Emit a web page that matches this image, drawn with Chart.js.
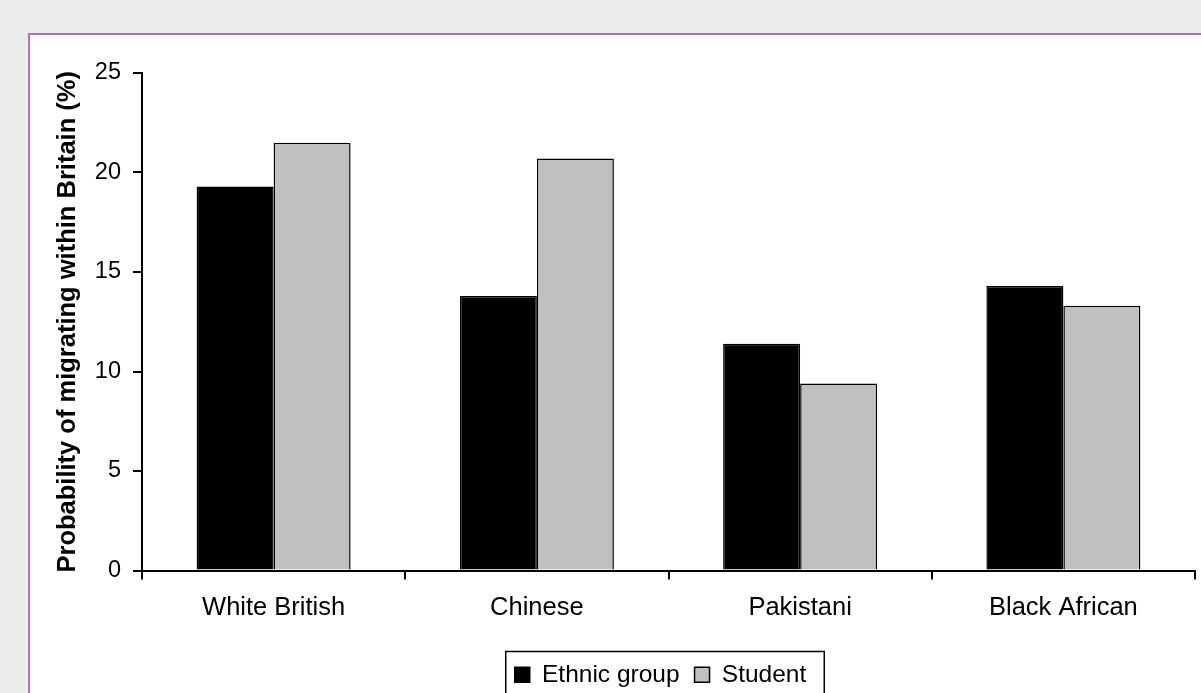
<!DOCTYPE html>
<html>
<head>
<meta charset="utf-8">
<script src="https://cdn.jsdelivr.net/npm/chart.js@4/dist/chart.umd.min.js"></script>
<style>
  html, body { margin: 0; padding: 0; width: 1201px; height: 693px; overflow: hidden; background: #ebecec; }
  #panel { position: absolute; left: 28px; top: 33px; width: 1300px; height: 800px; background: #fff; border: 2px solid #b46fc6; box-sizing: border-box; }
  #chart { position: absolute; left: 0; top: 0; }
</style>
</head>
<body>
<div id="panel"></div>
<canvas id="chart" width="1201" height="740"></canvas>
<script>
// Probability of migrating within Britain, by ethnic group
const categories = ['White British', 'Chinese', 'Pakistani', 'Black African'];
const ethnicGroup = [19.3, 13.8, 11.4, 14.3];
const student = [21.5, 20.7, 9.4, 13.3];
const seriesNames = ['Ethnic group', 'Student'];
const yTicks = [0, 5, 10, 15, 20, 25];

const FONT = '"Liberation Sans", Arial, sans-serif';
const LEGEND_PAD = 15;

// Frame drawn around the legend items
const legendFrame = {
  id: 'legendFrame',
  afterLayout(chart) {
    chart.legend.left -= 8;
    chart.legend.right -= 8;
  },
  afterDraw(chart) {
    const boxes = chart.legend.legendHitBoxes;
    if (!boxes || !boxes.length) return;
    const first = boxes[0], last = boxes[boxes.length - 1];
    const ctx = chart.ctx;
    ctx.save();
    ctx.strokeStyle = '#000';
    ctx.lineWidth = 1.5;
    const left = first.left - 9;
    const right = last.left + last.width + 18;
    const top = first.top - 11;
    ctx.strokeRect(left, top, right - left, chart.height + 20 - top);
    ctx.restore();
  }
};

new Chart(document.getElementById('chart'), {
  type: 'bar',
  data: {
    labels: categories,
    datasets: [
      { label: seriesNames[0], data: ethnicGroup, backgroundColor: '#000000', borderColor: '#000000', borderWidth: 1.5 },
      { label: seriesNames[1], data: student, backgroundColor: '#c0c0c0', borderColor: '#000000', borderWidth: 1.5 }
    ]
  },
  options: {
    responsive: false,
    devicePixelRatio: 1,
    animation: false,
    datasets: { bar: { categoryPercentage: 0.585, barPercentage: 1.0 } },
    layout: { padding: { left: 0, right: 6, top: 73, bottom: 43 } },
    plugins: {
      tooltip: { enabled: false },
      legend: {
        position: 'bottom',
        fullSize: false,
        labels: {
          boxWidth: 15, boxHeight: 15, padding: LEGEND_PAD,
          color: '#000', font: { family: FONT, size: 24.5 }
        }
      }
    },
    scales: {
      x: {
        afterFit(scale) { scale.height = 77; },
        grid: { offset: true, drawOnChartArea: false, drawTicks: true, tickLength: 9, color: '#000', lineWidth: 2 },
        border: { display: true, color: '#000', width: 2 },
        ticks: { color: '#000', padding: 13, font: { family: FONT, size: 25.5 }, maxRotation: 0 }
      },
      y: {
        min: 0, max: 25,
        afterFit(scale) { scale.width = 142; },
        afterBuildTicks(scale) { scale.ticks = yTicks.map(v => ({ value: v })); },
        grid: { drawOnChartArea: false, drawTicks: true, tickLength: 9, color: '#000', lineWidth: 2 },
        border: { display: true, color: '#000', width: 2 },
        ticks: { color: '#000', padding: 12, font: { family: FONT, size: 23.5 } },
        title: {
          display: true,
          text: 'Probability of migrating within Britain (%)',
          color: '#000',
          font: { family: FONT, size: 25.5, weight: 'bold' },
          padding: { top: 52.7, bottom: 0 }
        }
      }
    }
  },
  plugins: [legendFrame]
});
</script>
</body>
</html>
